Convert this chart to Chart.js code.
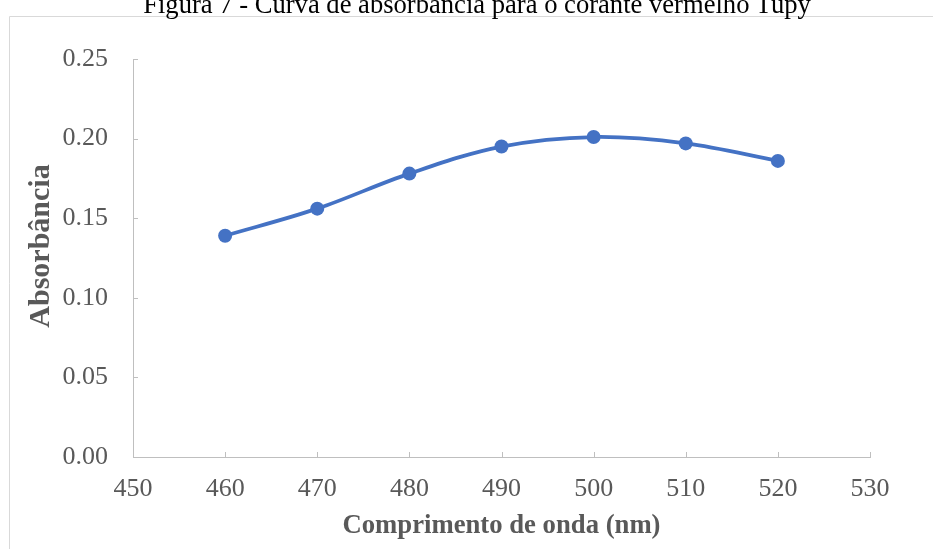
<!DOCTYPE html>
<html>
<head>
<meta charset="utf-8">
<script src="https://cdn.jsdelivr.net/npm/chart.js@4"></script>
<style>
  html, body { margin: 0; padding: 0; background: #fff; overflow: hidden; }
  #wrap { position: relative; width: 933px; height: 549px; }
  #title { position: absolute; top: -9px; left: 477px; transform: translateX(-50%);
    font-family: "Liberation Serif", "Times New Roman", serif; font-size: 26.6px; line-height: 26px;
    color: #000; white-space: nowrap; z-index: 2; }
  canvas { position: absolute; left: 0; top: 0; }
</style>
</head>
<body>
<div id="wrap">
  <div id="title">Figura 7 - Curva de absorbância para o corante vermelho Tupy</div>
  <canvas id="c" width="933" height="549"></canvas>
</div>
<script>
const wavelengths = [460, 470, 480, 490, 500, 510, 520];
const absorbance = [0.139, 0.156, 0.178, 0.195, 0.201, 0.197, 0.186];
const xTickValues = [450, 460, 470, 480, 490, 500, 510, 520, 530];
const yTickValues = [0.00, 0.05, 0.10, 0.15, 0.20, 0.25];
const xTitle = 'Comprimento de onda (nm)';
const yTitle = 'Absorbância';

const serif = '"Liberation Serif", "Times New Roman", serif';
const axisGray = '#bfbfbf';

const framePlugin = {
  id: 'frame',
  beforeDraw(chart) {
    const ctx = chart.ctx;
    ctx.save();
    ctx.strokeStyle = '#d9d9d9';
    ctx.lineWidth = 1;
    ctx.beginPath();
    ctx.moveTo(9.5, 600);
    ctx.lineTo(9.5, 16.5);
    ctx.lineTo(940, 16.5);
    ctx.stroke();
    ctx.restore();
  }
};

const innerTicks = {
  id: 'innerTicks',
  beforeDatasetsDraw(chart) {
    const ctx = chart.ctx;
    const xs = chart.scales.x, ys = chart.scales.y;
    const area = chart.chartArea;
    ctx.save();
    ctx.strokeStyle = axisGray;
    ctx.lineWidth = 1;
    ctx.beginPath();
    xTickValues.forEach(v => {
      const px = Math.round(xs.getPixelForValue(v)) + 0.5;
      ctx.moveTo(px, area.bottom);
      ctx.lineTo(px, area.bottom - 5);
    });
    yTickValues.forEach(v => {
      const py = Math.round(ys.getPixelForValue(v)) + 0.5;
      ctx.moveTo(area.left, py);
      ctx.lineTo(area.left + 5, py);
    });
    ctx.stroke();
    ctx.restore();
  }
};

// y-axis title drawn beside the y scale, at the position it has in the reference
const yTitlePlugin = {
  id: 'yTitle',
  afterDraw(chart) {
    const ctx = chart.ctx;
    ctx.save();
    ctx.translate(41, 246);
    ctx.rotate(-Math.PI / 2);
    ctx.font = 'bold 30px ' + serif;
    ctx.fillStyle = '#595959';
    ctx.textAlign = 'center';
    ctx.textBaseline = 'middle';
    ctx.fillText(yTitle, 0, 0);
    ctx.restore();
  }
};

new Chart(document.getElementById('c'), {
  type: 'line',
  data: {
    datasets: [{
      data: wavelengths.map((w, i) => ({ x: w, y: absorbance[i] })),
      borderColor: '#4472C4',
      backgroundColor: '#4472C4',
      borderWidth: 3.75,
      pointRadius: 7,
      pointHoverRadius: 7,
      pointBackgroundColor: '#4472C4',
      pointBorderWidth: 0,
      tension: 0.35,
      fill: false
    }]
  },
  options: {
    responsive: false,
    animation: false,
    events: [],
    layout: { padding: { left: 24, right: 63, top: 59, bottom: 7 } },
    plugins: { legend: { display: false }, tooltip: { enabled: false }, title: { display: false } },
    scales: {
      x: {
        type: 'linear',
        min: 450, max: 530,
        afterBuildTicks(scale) { scale.ticks = xTickValues.map(v => ({ value: v })); },
        afterFit(scale) { scale.height = 85; },
        grid: { display: false, drawTicks: false },
        border: { display: true, color: axisGray, width: 1 },
        ticks: {
          color: '#595959', padding: 17,
          font: { family: serif, size: 26 },
          callback: v => String(v)
        },
        title: {
          display: true, text: xTitle, color: '#595959', padding: 0,
          font: { family: serif, size: 26.7, weight: 'bold' }
        }
      },
      y: {
        min: 0, max: 0.25,
        afterBuildTicks(scale) { scale.ticks = yTickValues.map(v => ({ value: v })); },
        afterFit(scale) { scale.width = 109; },
        grid: { display: false, drawTicks: false },
        border: { display: true, color: axisGray, width: 1 },
        ticks: {
          color: '#595959', padding: 25,
          font: { family: serif, size: 26 },
          callback: v => Number(v).toFixed(2)
        }
      }
    }
  },
  plugins: [framePlugin, innerTicks, yTitlePlugin]
});
</script>
</body>
</html>
